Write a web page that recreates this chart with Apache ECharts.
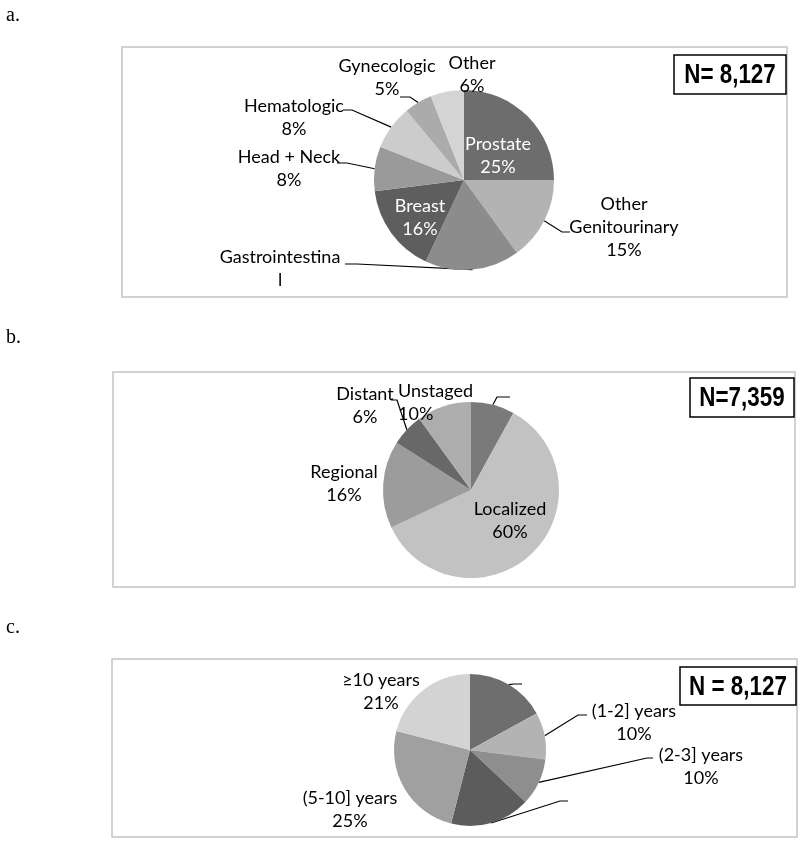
<!DOCTYPE html>
<html><head><meta charset="utf-8">
<script src="https://cdn.jsdelivr.net/npm/echarts@6/dist/echarts.min.js"></script>
<style>html,body{margin:0;padding:0;background:#fff}#c{width:800px;height:846px}</style>
</head><body><div id="c"></div>
<script>
// ---------- DATA ----------
// a. cancer type
const catsA = ['Prostate','Other Genitourinary','Gastrointestinal','Breast','Head + Neck','Hematologic','Gynecologic','Other'];
const valsA = [25,15,17,16,8,8,5,6];
const textA = ['Prostate','Other\nGenitourinary','Gastrointestina\nl','Breast','Head + Neck','Hematologic','Gynecologic','Other'];
const pctShownA = [true,true,false,true,true,true,true,true];
const totalA = 'N= 8,127';
// b. stage
const catsB = ['(unlabeled)','Localized','Regional','Distant','Unstaged'];
const valsB = [8,60,16,6,10];
const textB = ['','Localized','Regional','Distant','Unstaged'];
const pctShownB = [false,true,true,true,true];
const totalB = 'N=7,359';
// c. years since diagnosis
const catsC = ['(unlabeled 1)','(1-2] years','(2-3] years','(unlabeled 2)','(5-10] years','≥10 years'];
const valsC = [17,10,10,17,25,21];
const textC = ['','(1-2] years','(2-3] years','','(5-10] years','≥10 years'];
const pctShownC = [false,true,true,false,true,true];
const totalC = 'N = 8,127';

// ---------- STYLE / LAYOUT ----------
const FONT = 'Lato, "Open Sans", sans-serif';
const colorsA = ['#6d6d6d','#b3b3b3','#8c8c8c','#5e5e5e','#9a9a9a','#cccccc','#ababab','#d4d4d4'];
const colorsB = ['#7a7a7a','#c2c2c2','#9c9c9c','#686868','#adadad'];
const colorsC = ['#6e6e6e','#b3b3b3','#8e8e8e','#5c5c5c','#a0a0a0','#d3d3d3'];
const insideA = [true,false,false,true,false,false,false,false];
// label placement relative to pie centre; l = leader bend & end points
const placeA = [
  {p:[34,-24.5]},
  {p:[160,47], l:[[98,52],[106,52]]},
  {p:[-184,89], l:[[-107,84],[-119,84]]},
  {p:[-44,37.5]},
  {p:[-175,-11], l:[[-117,-17],[-127,-17]]},
  {p:[-170,-62.5], l:[[-112,-70],[-121,-70]]},
  {p:[-77,-102.5], l:[[-54,-83],[-64,-83]]},
  {p:[8,-105]}
];
const placeB = [
  {p:[45,-93], l:[[26,-93],[39,-93]]},
  {p:[39,30.5]},
  {p:[-127,-6.5]},
  {p:[-106,-84.5], l:[[-74,-90],[-80,-90]]},
  {p:[-73,-87], a:'left'}
];
const placeC = [
  {p:[60,-66], l:[[44,-66],[52,-66]]},
  {p:[164,-27.5], l:[[108,-35],[117,-35]]},
  {p:[231,16.5], l:[[177,8],[183,8]]},
  {p:[110,51], l:[[90,51],[98,51]]},
  {p:[-120,59.5]},
  {p:[-89,-58.5]}
];
const centerA = [464,180], radiusA = 90;
const centerB = [471,490], radiusB = 88;
const centerC = [470,750], radiusC = 76;

function pieSeries(cats, vals, texts, pctShown, colors, inside, place, center, radius) {
  return {
    type:'pie', center:center, radius:radius, startAngle:90, clockwise:true,
    animation:false, silent:true, avoidLabelOverlap:false,
    itemStyle:{borderWidth:0},
    label:{show:true, color:'#000', fontFamily:FONT, fontSize:18, lineHeight:23,
      formatter: function(p){
        const i = p.dataIndex;
        let t = texts[i];
        if (pctShown[i]) t = t + '\n' + vals[i] + '%';
        return t === '' ? ' ' : t;
      }},
    labelLine:{show:true, smooth:false, lineStyle:{color:'#000', width:1.2}},
    labelLayout: function(params){
      const i = params.dataIndex, pl = place[i];
      const out = {x:center[0]+pl.p[0], y:center[1]+pl.p[1], align:pl.a||'center', verticalAlign:'middle'};
      if (pl.l && params.labelLinePoints) {
        const s = params.labelLinePoints[0];
        out.labelLinePoints = [s,
          [center[0]+pl.l[0][0], center[1]+pl.l[0][1]],
          [center[0]+pl.l[1][0], center[1]+pl.l[1][1]]];
      }
      return out;
    },
    data: cats.map(function(n,i){
      return {name:n, value:vals[i], itemStyle:{color:colors[i]},
        label: inside && inside[i] ? {position:'inside', color:'#fff'} : {position:'outside'},
        labelLine:{show: !!place[i].l, length:10, length2:10}};
    })
  };
}

function panel(letter, ly, box, nbox, total) {
  return [
    {type:'text', x:6, y:ly, style:{text:letter, font:'20px "Liberation Serif", serif', fill:'#000', verticalAlign:'middle', textVerticalAlign:'middle'}},
    {type:'rect', z:-10, shape:{x:box[0], y:box[1], width:box[2], height:box[3]}, style:{fill:'#fff', stroke:'#c4c4c4', lineWidth:1.5}},
    {type:'rect', z:10, shape:{x:nbox[0], y:nbox[1], width:nbox[2], height:nbox[3]}, style:{fill:'#fff', stroke:'#000', lineWidth:1.5}},
    {type:'text', z:11, x:nbox[0]+nbox[2]/2, y:nbox[1]+nbox[3]/2+1, scaleX:0.8, style:{text:total, font:'bold 28px "Liberation Sans", sans-serif', fill:'#000', align:'center', verticalAlign:'middle', textAlign:'center', textVerticalAlign:'middle'}}
  ];
}

const chart = echarts.init(document.getElementById('c'), null, {renderer:'canvas'});
chart.setOption({
  backgroundColor:'#fff',
  animation:false,
  graphic: [].concat(
    panel('a.', 16, [122,47,665,250], [674,55,112,39], totalA),
    panel('b.', 338, [113,372,682,215], [690,378,104,39], totalB),
    panel('c.', 628, [112,659,685,178], [680,667,116,38], totalC)
  ),
  series: [
    pieSeries(catsA, valsA, textA, pctShownA, colorsA, insideA, placeA, centerA, radiusA),
    pieSeries(catsB, valsB, textB, pctShownB, colorsB, null, placeB, centerB, radiusB),
    pieSeries(catsC, valsC, textC, pctShownC, colorsC, null, placeC, centerC, radiusC)
  ]
});
</script></body></html>
